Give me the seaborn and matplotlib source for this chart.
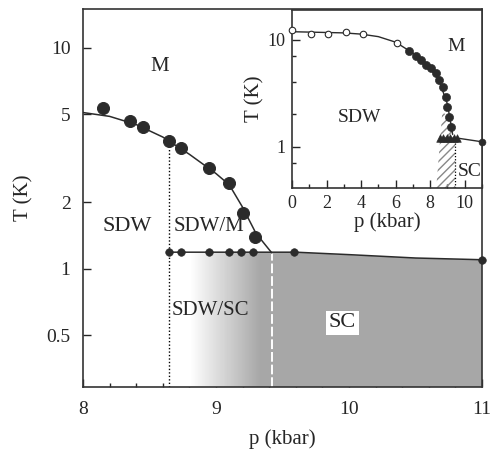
import numpy as np
import matplotlib
matplotlib.use("Agg")
import matplotlib.pyplot as plt
import seaborn as sns
from matplotlib.ticker import FixedLocator, NullFormatter, NullLocator, MultipleLocator

sns.set_style("ticks")
plt.rcParams['font.family'] = ['Liberation Serif', 'DejaVu Serif']

# main panel: SDW transition points and fitted line
tsdw_p = [8.15, 8.35, 8.45, 8.65, 8.74, 8.95, 9.10, 9.20, 9.29]
tsdw_T = [5.35, 4.67, 4.39, 3.80, 3.53, 2.86, 2.45, 1.79, 1.40]
fit_p = [8.0, 8.2, 8.4, 8.6, 8.8, 9.0, 9.1, 9.2, 9.3, 9.42]
fit_T = [5.1, 4.9, 4.5, 3.95, 3.3, 2.7, 2.4, 1.9, 1.45, 1.18]

# superconducting transition
sc_p = [8.65, 8.74, 8.95, 9.10, 9.19, 9.28, 9.59, 11.0]
sc_T = [1.19, 1.19, 1.19, 1.19, 1.19, 1.19, 1.19, 1.10]
sc_line_p = [8.65, 9.6, 10.0, 10.5, 11.0]
sc_line_T = [1.19, 1.19, 1.16, 1.12, 1.10]

# grey shading stops (p, level)
shade_p = [8.65, 8.8, 9.33, 11.0]
shade_level = [0.0, 0.0, 1.0, 1.0]

p_sdw_sc = 8.65
p_crit = 9.42

# inset data
in_open_p = [0, 1.1, 2.07, 3.1, 4.1, 6.1]
in_open_T = [12.4, 11.4, 11.4, 11.9, 11.4, 9.4]
in_fill_p = [6.8, 7.19, 7.47, 7.76, 8.04, 8.33, 8.52, 8.72, 8.9, 9.0, 9.1, 9.2]
in_fill_T = [7.86, 7.0, 6.5, 5.8, 5.4, 4.87, 4.2, 3.65, 2.93, 2.36, 1.9, 1.53]
in_tri_p = [8.55, 8.75, 8.95, 9.15, 9.35, 9.55]
in_tri_T = [1.2, 1.2, 1.2, 1.2, 1.2, 1.2]
in_fit_p = [0, 2, 3, 4, 5, 6, 7, 8, 8.5, 9.0, 9.3]
in_fit_T = [11.9, 11.7, 11.6, 11.3, 10.7, 9.5, 7.5, 5.4, 4.2, 2.5, 1.3]
in_sc_p = [9.6, 11.0]
in_sc_T = [1.2, 1.11]
hatch_p = [8.35, 9.45, 9.45, 9.15, 8.7]
hatch_T = [0.41, 0.41, 1.2, 1.9, 2.1]

dark = '#2b2b2b'

fig = plt.figure(figsize=(4.9, 4.67), dpi=100)
ax = fig.add_axes([0.1694, 0.1713, 0.8143, 0.8094])
ax.set_yscale('log')
ax.set_xlim(8, 11)
ax.set_ylim(0.292, 15.0)

# shaded SC region: gradient clipped under the SC line
xs = np.linspace(8.65, 11.0, 400)
lev = np.interp(xs, shade_p, shade_level)
cmap = matplotlib.colors.LinearSegmentedColormap.from_list('g', ['white', '#a7a7a7'])
mesh = ax.pcolormesh(xs, [0.292, 1.3], lev[:-1][None, :],
                     cmap=cmap, vmin=0, vmax=1, shading='flat', zorder=1)
clip = ax.fill_between(sc_line_p, 0.292, sc_line_T, color='none', zorder=0)
mesh.set_clip_path(clip.get_paths()[0], ax.transData)

ax.vlines(p_sdw_sc, 0.292, 3.8, colors='k', linestyles=(0, (1, 1.5)), lw=1, zorder=2)
ax.vlines(p_crit, 0.292, 1.18, colors='white', linestyles=(0, (5, 1.5)), lw=1.4, zorder=2)

sns.lineplot(x=fit_p, y=fit_T, ax=ax, color=dark, lw=1.1, sort=False, zorder=3)
sns.lineplot(x=sc_line_p, y=sc_line_T, ax=ax, color=dark, lw=1.1, sort=False, zorder=3)
sns.scatterplot(x=tsdw_p, y=tsdw_T, ax=ax, color=dark, s=75, edgecolor=dark, zorder=4)
sns.scatterplot(x=sc_p, y=sc_T, ax=ax, color=dark, s=30, edgecolor=dark, zorder=4, clip_on=False)

ax.text(8.58, 8.2, 'M', fontsize=15, ha='center', va='center')
ax.text(8.33, 1.55, 'SDW', fontsize=16, ha='center', va='center')
ax.text(8.95, 1.55, 'SDW/M', fontsize=15, ha='center', va='center')
ax.text(8.96, 0.65, 'SDW/SC', fontsize=15, ha='center', va='center', zorder=5)
ax.text(9.95, 0.57, 'SC', fontsize=16, ha='center', va='center', zorder=5,
        bbox=dict(facecolor='white', edgecolor='none', pad=2))

ax.set_xticks([8, 9, 10, 11])
ax.xaxis.set_minor_locator(MultipleLocator(0.2))
ax.yaxis.set_major_locator(FixedLocator([0.5, 1, 2, 5, 10]))
ax.set_yticklabels(['0.5', '1', '2', '5', '10'])
ax.yaxis.set_minor_locator(NullLocator())
ax.yaxis.set_minor_formatter(NullFormatter())
ax.tick_params(which='both', direction='in', top=False, right=False, labelsize=14)
ax.tick_params(which='major', length=6, width=1)
ax.tick_params(which='minor', length=3, width=1)
ax.tick_params(axis='x', pad=10)
ax.tick_params(axis='y', pad=9)
ax.set_xlabel('p (kbar)', fontsize=15, labelpad=8)
ax.set_ylabel('T (K)', fontsize=15, labelpad=9)
for s in ax.spines.values():
    s.set_linewidth(1.2)
    s.set_color('#333333')

# inset
ins = fig.add_axes([0.5959, 0.5974, 0.3878, 0.3812])
ins.set_facecolor('white')
ins.set_yscale('log')
ins.set_xlim(0, 11)
ins.set_ylim(0.41, 19)

ins.fill(hatch_p, hatch_T, facecolor='none', edgecolor='#888888', hatch='////', lw=0, zorder=1)
ins.vlines(9.45, 0.41, 1.2, colors='k', linestyles=(0, (1, 1.5)), lw=0.9, zorder=2)
sns.lineplot(x=in_fit_p, y=in_fit_T, ax=ins, color=dark, lw=1, sort=False, zorder=3)
sns.lineplot(x=[in_tri_p[0]] + in_sc_p, y=[in_tri_T[0]] + in_sc_T, ax=ins, color=dark, lw=1, sort=False, zorder=3)
sns.scatterplot(x=in_open_p, y=in_open_T, ax=ins, facecolor='white', edgecolor=dark, s=22, lw=0.8, zorder=4, clip_on=False)
sns.scatterplot(x=in_fill_p, y=in_fill_T, ax=ins, color=dark, edgecolor=dark, s=34, zorder=4)
sns.scatterplot(x=in_tri_p, y=in_tri_T, ax=ins, color=dark, edgecolor=dark, marker='^', s=30, zorder=4)
sns.scatterplot(x=[in_sc_p[-1]], y=[in_sc_T[-1]], ax=ins, color=dark, edgecolor=dark, s=25, zorder=5, clip_on=False)

ins.text(9.5, 8.6, 'M', fontsize=14, ha='center', va='center')
ins.text(3.9, 1.87, 'SDW', fontsize=14, ha='center', va='center')
ins.text(10.3, 0.58, 'SC', fontsize=14, ha='center', va='center')

ins.set_xticks([0, 2, 4, 6, 8, 10])
ins.xaxis.set_minor_locator(MultipleLocator(1))
ins.yaxis.set_major_locator(FixedLocator([1, 10]))
ins.set_yticklabels(['1', '10'])
ins.yaxis.set_minor_locator(FixedLocator([0.7, 2, 4, 7]))
ins.yaxis.set_minor_formatter(NullFormatter())
ins.tick_params(which='both', direction='in', top=False, right=False, labelsize=13, pad=5)
ins.tick_params(which='major', length=6, width=1)
ins.tick_params(which='minor', length=3, width=1)
ins.set_xlabel('p (kbar)', fontsize=15, labelpad=0)
ins.set_ylabel('T (K)', fontsize=15, labelpad=2)
for s in ins.spines.values():
    s.set_linewidth(1.2)
    s.set_color('#333333')

fig.savefig('out.png', dpi=100)
